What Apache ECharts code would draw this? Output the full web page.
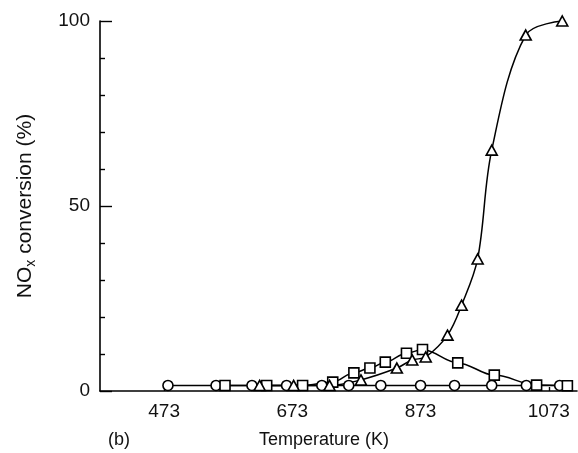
<!DOCTYPE html>
<html>
<head>
<meta charset="utf-8">
<script src="https://cdn.jsdelivr.net/npm/echarts@6/dist/echarts.min.js"></script>
<style>html,body{margin:0;padding:0;background:#fff;}#c{width:578px;height:453px;}</style>
</head>
<body>
<div id="c"></div>
<script>
// Temperature (K) and NOx conversion (%)
const circleT = [479, 554, 610, 664, 719, 761, 811, 873, 926, 984, 1038, 1090];
const circleV = [1.5, 1.5, 1.5, 1.5, 1.5, 1.5, 1.5, 1.5, 1.5, 1.5, 1.5, 1.5];
const squareT = [568, 633, 689, 736, 769, 794, 818, 851, 876, 931, 988, 1054, 1102];
const squareV = [1.5, 1.5, 1.5, 2.4, 4.9, 6.2, 7.8, 10.2, 11.2, 7.6, 4.3, 1.6, 1.4];
const triT = [622, 675, 731, 780, 836, 860, 881, 915, 937, 962, 984, 1037, 1094];
const triV = [1.5, 1.5, 1.5, 3.0, 6.2, 8.4, 9.2, 15.1, 23.2, 35.7, 65.1, 96.2, 100];
const xTicks = [473, 673, 873, 1073];

const zip = (a, b) => a.map((v, i) => [v, b[i]]);
const FONT = "'Liberation Sans', Arial, Helvetica, sans-serif";

function mk(name, sym, size, t, v, smooth, mono) {
  const s = {
    name, type: 'line', data: zip(t, v), smooth: smooth,
    symbol: sym, symbolSize: size, showAllSymbol: true, clip: false,
    lineStyle: { color: '#000', width: 1.5 },
    itemStyle: { color: '#fff', borderColor: '#000', borderWidth: 1.6 },
    emphasis: { disabled: true }, animation: false
  };
  if (mono) s.smoothMonotone = 'x';
  return s;
}

const chart = echarts.init(document.getElementById('c'));
chart.setOption({
  backgroundColor: '#fff',
  animation: false,
  title: [
    { text: '(b)', left: 103, top: 426, textStyle: { fontFamily: FONT, fontSize: 18, fontWeight: 'normal', color: '#111' } },
    { text: 'Temperature (K)', left: 254, top: 426, textStyle: { fontFamily: FONT, fontSize: 18, fontWeight: 'normal', color: '#111' } }
  ],
  grid: { left: 100, top: 21, width: 477, height: 370, containLabel: false },
  xAxis: {
    type: 'value', min: 373, max: 1117,
    axisLine: { show: true, onZero: false, lineStyle: { color: '#000', width: 1.6 } },
    axisTick: { show: true, inside: true, length: 4, customValues: xTicks, lineStyle: { color: '#000', width: 1.4 } },
    axisLabel: { customValues: xTicks, formatter: v => String(v), margin: 11, fontFamily: FONT, fontSize: 19, color: '#111' },
    splitLine: { show: false }
  },
  yAxis: {
    type: 'value', min: 0, max: 100, interval: 50,
    name: '{a|NO}{b|x}{a| conversion (%)}',
    nameLocation: 'middle', nameRotate: 90, nameGap: 62,
    nameTextStyle: {
      rich: {
        a: { fontFamily: FONT, fontSize: 21, color: '#111' },
        b: { fontFamily: FONT, fontSize: 14, color: '#111', padding: [11, 0, 0, 0] }
      }
    },
    axisLine: { show: true, lineStyle: { color: '#000', width: 1.6 } },
    axisTick: { show: true, inside: true, length: 12, lineStyle: { color: '#000', width: 1.4 } },
    minorTick: { show: true, splitNumber: 5, length: 5, lineStyle: { color: '#000', width: 1.4 } },
    axisLabel: { margin: 10, formatter: v => String(v), fontFamily: FONT, fontSize: 19, color: '#111' },
    splitLine: { show: false }, minorSplitLine: { show: false }
  },
  series: [
    mk('circle', 'circle', 10, circleT, circleV, 0.3, true),
    mk('square', 'rect', 10, squareT, squareV, 0.35, true),
    mk('triangle', 'triangle', [11, 10], triT, triV, 0.35, false)
  ]
});
</script>
</body>
</html>
